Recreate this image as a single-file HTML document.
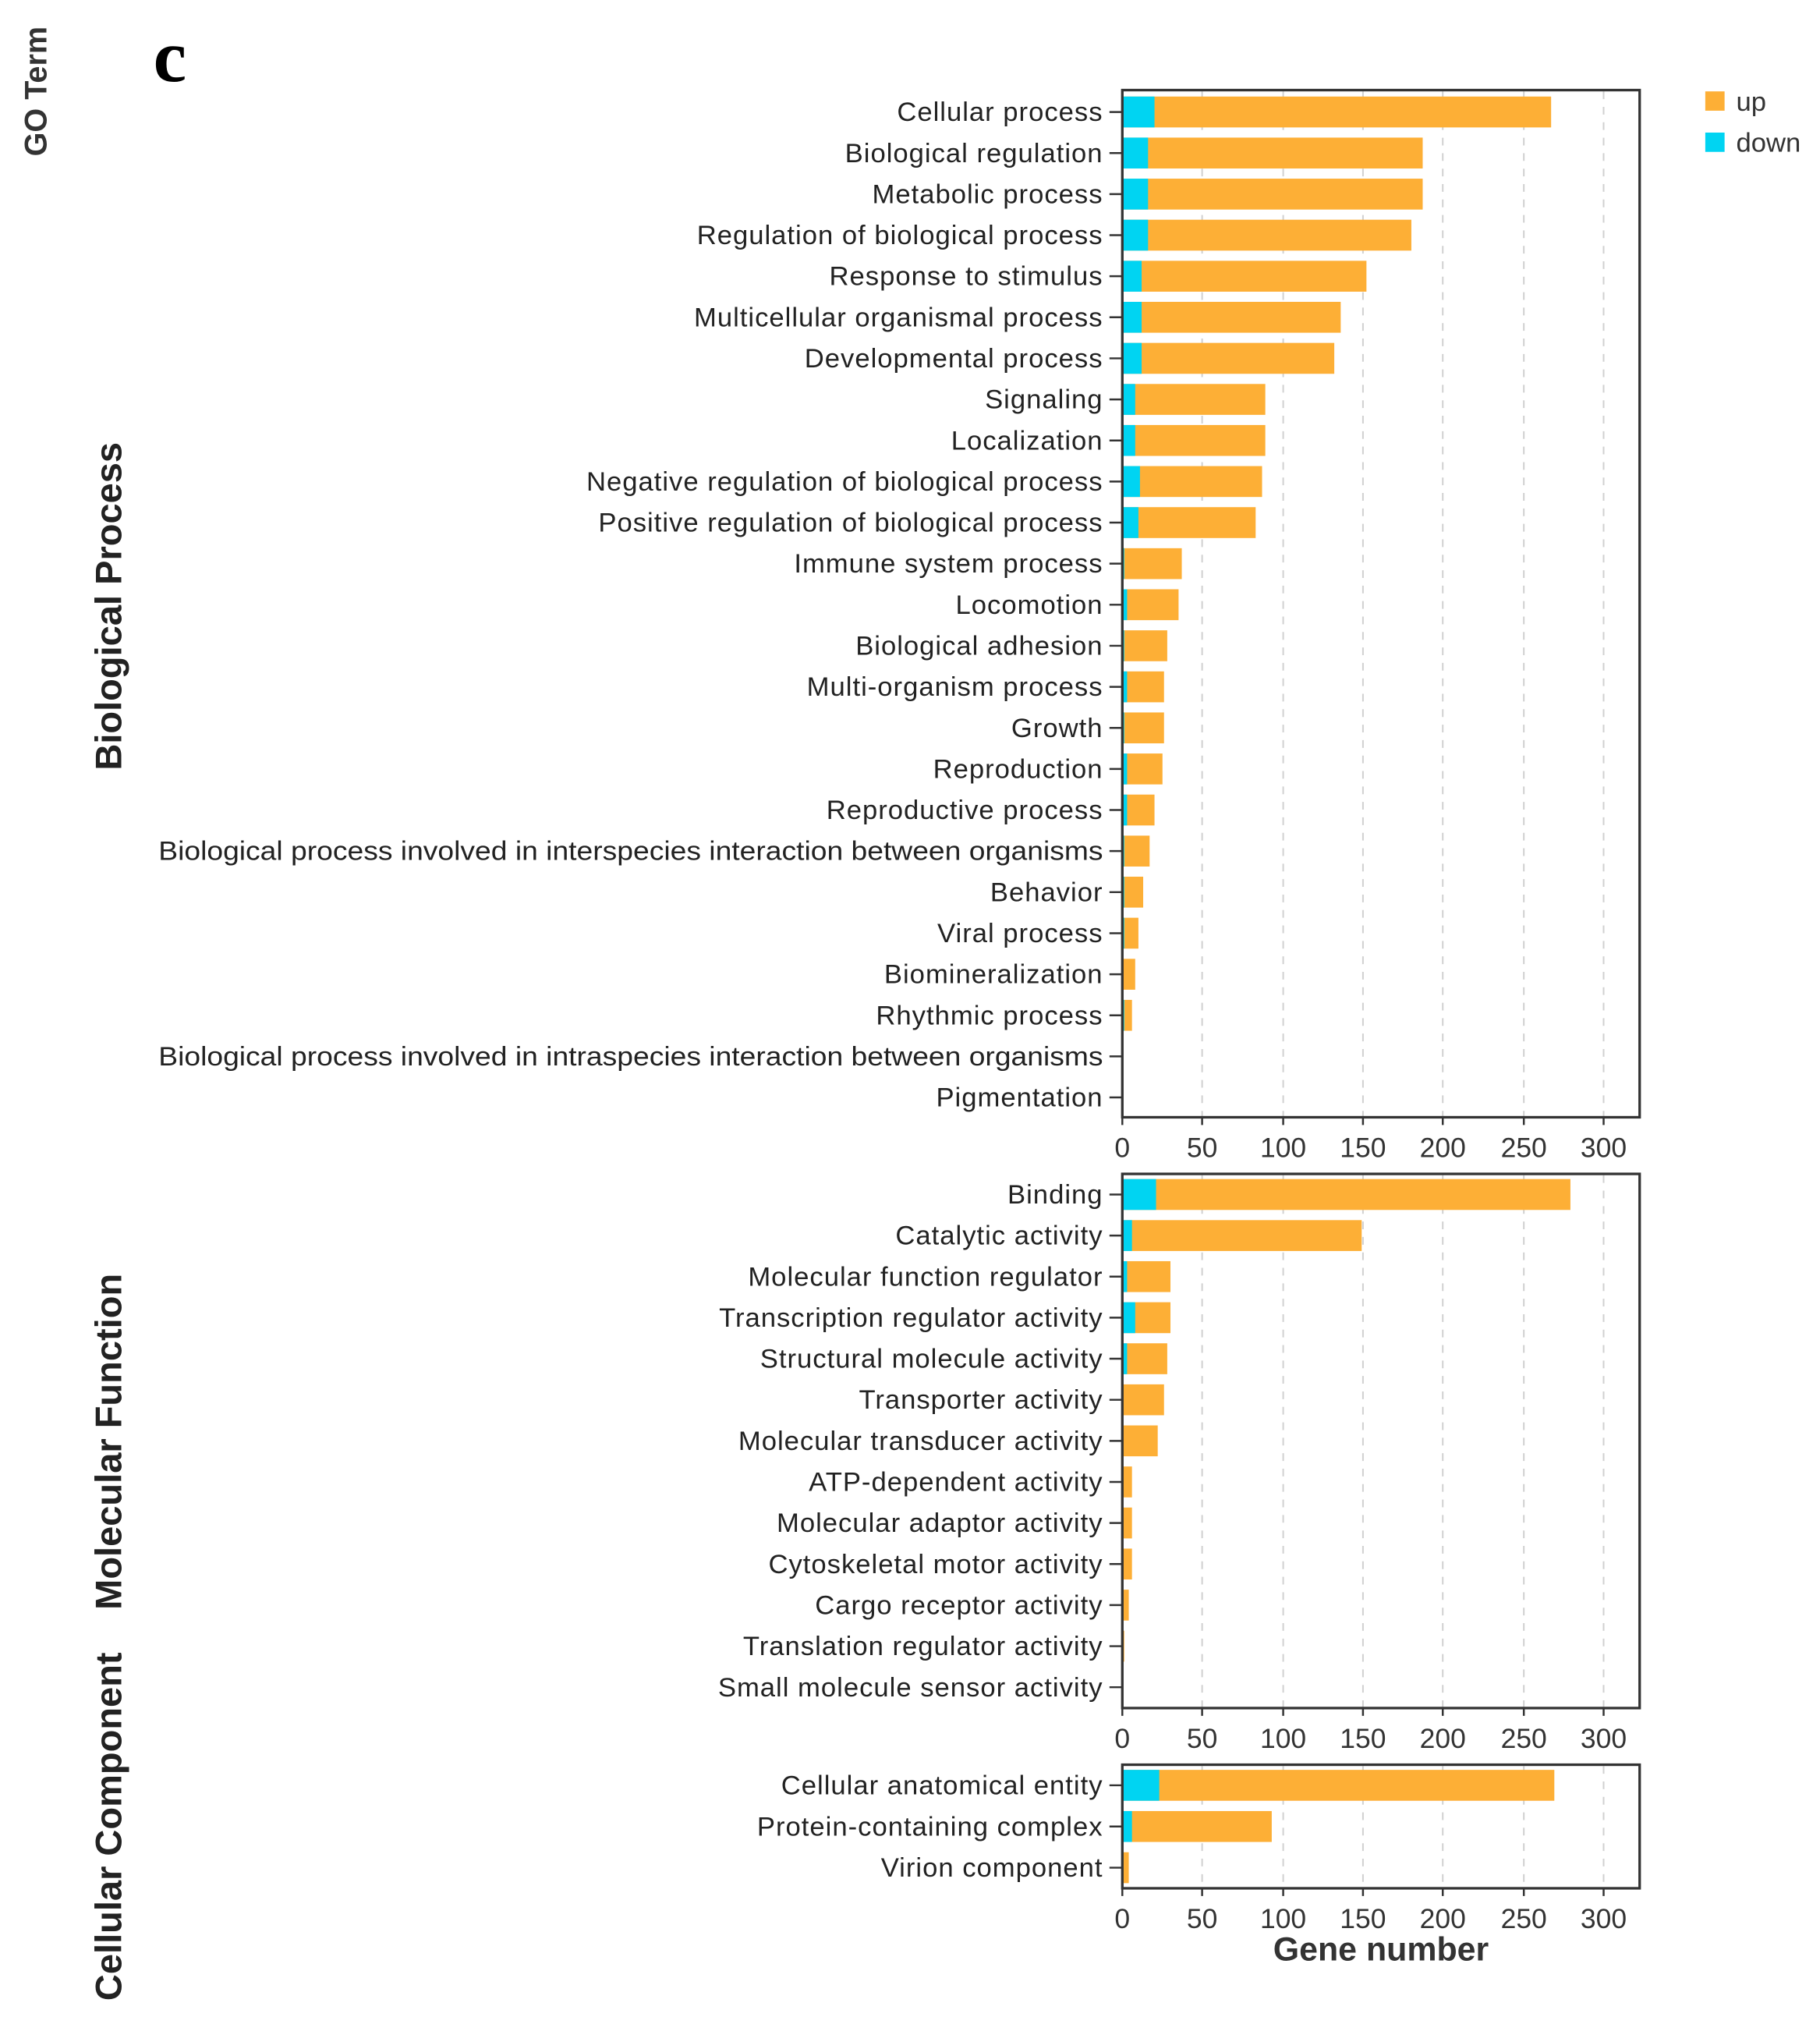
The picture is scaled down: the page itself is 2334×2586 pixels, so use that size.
<!DOCTYPE html>
<html><head><meta charset="utf-8"><style>html,body{margin:0;padding:0;background:#fff}svg{display:block}</style></head>
<body>
<svg width="2334" height="2586" viewBox="0 0 1414 1567" xmlns="http://www.w3.org/2000/svg" font-family="Liberation Sans, Arial, sans-serif">
<rect width="1414" height="1567" fill="#fff"/>
<text x="119" y="63" font-family="Liberation Serif, serif" font-weight="bold" font-size="58">c</text>
<text transform="translate(36,71) rotate(-90)" text-anchor="middle" font-weight="bold" font-size="24" fill="#333">GO Term</text>
<text transform="translate(94,471) rotate(-90)" text-anchor="middle" font-weight="bold" font-size="28.5" fill="#222">Biological Process</text>
<text transform="translate(94,1120) rotate(-90)" text-anchor="middle" font-weight="bold" font-size="28.5" fill="#222">Molecular Function</text>
<text transform="translate(94,1419) rotate(-90)" text-anchor="middle" font-weight="bold" font-size="28.5" fill="#222">Cellular Component</text>

<rect x="1325" y="71" width="15" height="15" fill="#FDAF36"/>
<text x="1349" y="86" font-size="21" fill="#333">up</text>
<rect x="1325" y="103" width="15" height="15" fill="#00D4F2"/>
<text x="1349" y="118" font-size="21" fill="#333">down</text>

<g stroke="#d0d0d0" stroke-width="1.2" stroke-dasharray="6,6">
<path d="M934 71V868M997 71V868M1059 71V868M1121 71V868M1184 71V868M1246 71V868"/>
<path d="M934 913V1327M997 913V1327M1059 913V1327M1121 913V1327M1184 913V1327M1246 913V1327"/>
<path d="M934 1372V1467M997 1372V1467M1059 1372V1467M1121 1372V1467M1184 1372V1467M1246 1372V1467"/>
</g>

<g font-size="21" letter-spacing="0.6" fill="#222" text-anchor="end">
<g transform="translate(0,87)"><rect x="872" y="-12" width="333.2" height="24" fill="#FDAF36"/><rect x="872" y="-12" width="25" height="24" fill="#00D4F2"/><text x="857" y="7">Cellular process</text></g>
<g transform="translate(0,118.9)"><rect x="872" y="-12" width="233.4" height="24" fill="#FDAF36"/><rect x="872" y="-12" width="20" height="24" fill="#00D4F2"/><text x="857" y="7">Biological regulation</text></g>
<g transform="translate(0,150.8)"><rect x="872" y="-12" width="233.4" height="24" fill="#FDAF36"/><rect x="872" y="-12" width="20" height="24" fill="#00D4F2"/><text x="857" y="7">Metabolic process</text></g>
<g transform="translate(0,182.7)"><rect x="872" y="-12" width="224.6" height="24" fill="#FDAF36"/><rect x="872" y="-12" width="20" height="24" fill="#00D4F2"/><text x="857" y="7">Regulation of biological process</text></g>
<g transform="translate(0,214.6)"><rect x="872" y="-12" width="189.7" height="24" fill="#FDAF36"/><rect x="872" y="-12" width="15" height="24" fill="#00D4F2"/><text x="857" y="7">Response to stimulus</text></g>
<g transform="translate(0,246.5)"><rect x="872" y="-12" width="169.7" height="24" fill="#FDAF36"/><rect x="872" y="-12" width="15" height="24" fill="#00D4F2"/><text x="857" y="7">Multicellular organismal process</text></g>
<g transform="translate(0,278.4)"><rect x="872" y="-12" width="164.7" height="24" fill="#FDAF36"/><rect x="872" y="-12" width="15" height="24" fill="#00D4F2"/><text x="857" y="7">Developmental process</text></g>
<g transform="translate(0,310.3)"><rect x="872" y="-12" width="111.1" height="24" fill="#FDAF36"/><rect x="872" y="-12" width="10" height="24" fill="#00D4F2"/><text x="857" y="7">Signaling</text></g>
<g transform="translate(0,342.2)"><rect x="872" y="-12" width="111.1" height="24" fill="#FDAF36"/><rect x="872" y="-12" width="10" height="24" fill="#00D4F2"/><text x="857" y="7">Localization</text></g>
<g transform="translate(0,374.1)"><rect x="872" y="-12" width="108.6" height="24" fill="#FDAF36"/><rect x="872" y="-12" width="13.7" height="24" fill="#00D4F2"/><text x="857" y="7">Negative regulation of biological process</text></g>
<g transform="translate(0,406)"><rect x="872" y="-12" width="103.6" height="24" fill="#FDAF36"/><rect x="872" y="-12" width="12.5" height="24" fill="#00D4F2"/><text x="857" y="7">Positive regulation of biological process</text></g>
<g transform="translate(0,437.9)"><rect x="872" y="-12" width="46.2" height="24" fill="#FDAF36"/><rect x="872" y="-12" width="1.5" height="24" fill="#00D4F2"/><text x="857" y="7">Immune system process</text></g>
<g transform="translate(0,469.8)"><rect x="872" y="-12" width="43.7" height="24" fill="#FDAF36"/><rect x="872" y="-12" width="3.7" height="24" fill="#00D4F2"/><text x="857" y="7">Locomotion</text></g>
<g transform="translate(0,501.7)"><rect x="872" y="-12" width="34.9" height="24" fill="#FDAF36"/><rect x="872" y="-12" width="1.5" height="24" fill="#00D4F2"/><text x="857" y="7">Biological adhesion</text></g>
<g transform="translate(0,533.6)"><rect x="872" y="-12" width="32.4" height="24" fill="#FDAF36"/><rect x="872" y="-12" width="3.7" height="24" fill="#00D4F2"/><text x="857" y="7">Multi-organism process</text></g>
<g transform="translate(0,565.5)"><rect x="872" y="-12" width="32.4" height="24" fill="#FDAF36"/><rect x="872" y="-12" width="1.5" height="24" fill="#00D4F2"/><text x="857" y="7">Growth</text></g>
<g transform="translate(0,597.4)"><rect x="872" y="-12" width="31.2" height="24" fill="#FDAF36"/><rect x="872" y="-12" width="3.7" height="24" fill="#00D4F2"/><text x="857" y="7">Reproduction</text></g>
<g transform="translate(0,629.3)"><rect x="872" y="-12" width="25" height="24" fill="#FDAF36"/><rect x="872" y="-12" width="3.7" height="24" fill="#00D4F2"/><text x="857" y="7">Reproductive process</text></g>
<g transform="translate(0,661.2)"><rect x="872" y="-12" width="21.2" height="24" fill="#FDAF36"/><rect x="872" y="-12" width="1.5" height="24" fill="#00D4F2"/><text x="857" y="7" letter-spacing="0" textLength="734" lengthAdjust="spacingAndGlyphs">Biological process involved in interspecies interaction between organisms</text></g>
<g transform="translate(0,693.1)"><rect x="872" y="-12" width="16.2" height="24" fill="#FDAF36"/><rect x="872" y="-12" width="1.5" height="24" fill="#00D4F2"/><text x="857" y="7">Behavior</text></g>
<g transform="translate(0,725)"><rect x="872" y="-12" width="12.5" height="24" fill="#FDAF36"/><rect x="872" y="-12" width="1.5" height="24" fill="#00D4F2"/><text x="857" y="7">Viral process</text></g>
<g transform="translate(0,756.9)"><rect x="872" y="-12" width="10" height="24" fill="#FDAF36"/><text x="857" y="7">Biomineralization</text></g>
<g transform="translate(0,788.8)"><rect x="872" y="-12" width="7.5" height="24" fill="#FDAF36"/><rect x="872" y="-12" width="1.5" height="24" fill="#00D4F2"/><text x="857" y="7">Rhythmic process</text></g>
<g transform="translate(0,820.7)"><text x="857" y="7" letter-spacing="0" textLength="734" lengthAdjust="spacingAndGlyphs">Biological process involved in intraspecies interaction between organisms</text></g>
<g transform="translate(0,852.6)"><text x="857" y="7">Pigmentation</text></g>

<g transform="translate(0,928)"><rect x="872" y="-12" width="348.2" height="24" fill="#FDAF36"/><rect x="872" y="-12" width="26.2" height="24" fill="#00D4F2"/><text x="857" y="7">Binding</text></g>
<g transform="translate(0,959.9)"><rect x="872" y="-12" width="186" height="24" fill="#FDAF36"/><rect x="872" y="-12" width="7.5" height="24" fill="#00D4F2"/><text x="857" y="7">Catalytic activity</text></g>
<g transform="translate(0,991.8)"><rect x="872" y="-12" width="37.4" height="24" fill="#FDAF36"/><rect x="872" y="-12" width="3.7" height="24" fill="#00D4F2"/><text x="857" y="7">Molecular function regulator</text></g>
<g transform="translate(0,1023.7)"><rect x="872" y="-12" width="37.4" height="24" fill="#FDAF36"/><rect x="872" y="-12" width="10" height="24" fill="#00D4F2"/><text x="857" y="7">Transcription regulator activity</text></g>
<g transform="translate(0,1055.6)"><rect x="872" y="-12" width="34.9" height="24" fill="#FDAF36"/><rect x="872" y="-12" width="3.7" height="24" fill="#00D4F2"/><text x="857" y="7">Structural molecule activity</text></g>
<g transform="translate(0,1087.5)"><rect x="872" y="-12" width="32.4" height="24" fill="#FDAF36"/><text x="857" y="7">Transporter activity</text></g>
<g transform="translate(0,1119.4)"><rect x="872" y="-12" width="27.5" height="24" fill="#FDAF36"/><text x="857" y="7">Molecular transducer activity</text></g>
<g transform="translate(0,1151.3)"><rect x="872" y="-12" width="7.5" height="24" fill="#FDAF36"/><text x="857" y="7">ATP-dependent activity</text></g>
<g transform="translate(0,1183.2)"><rect x="872" y="-12" width="7.5" height="24" fill="#FDAF36"/><text x="857" y="7">Molecular adaptor activity</text></g>
<g transform="translate(0,1215.1)"><rect x="872" y="-12" width="7.5" height="24" fill="#FDAF36"/><text x="857" y="7">Cytoskeletal motor activity</text></g>
<g transform="translate(0,1247)"><rect x="872" y="-12" width="5" height="24" fill="#FDAF36"/><text x="857" y="7">Cargo receptor activity</text></g>
<g transform="translate(0,1278.9)"><rect x="872" y="-12" width="1.5" height="24" fill="#FDAF36"/><text x="857" y="7">Translation regulator activity</text></g>
<g transform="translate(0,1310.8)"><text x="857" y="7">Small molecule sensor activity</text></g>

<g transform="translate(0,1387)"><rect x="872" y="-12" width="335.7" height="24" fill="#FDAF36"/><rect x="872" y="-12" width="28.7" height="24" fill="#00D4F2"/><text x="857" y="7">Cellular anatomical entity</text></g>
<g transform="translate(0,1419)"><rect x="872" y="-12" width="116.1" height="24" fill="#FDAF36"/><rect x="872" y="-12" width="7.5" height="24" fill="#00D4F2"/><text x="857" y="7">Protein-containing complex</text></g>
<g transform="translate(0,1451)"><rect x="872" y="-12" width="5" height="24" fill="#FDAF36"/><text x="857" y="7">Virion component</text></g>
</g>

<g stroke="#333" stroke-width="1.5">
<path d="M862 87H872M862 118.9H872M862 150.8H872M862 182.7H872M862 214.6H872M862 246.5H872M862 278.4H872M862 310.3H872M862 342.2H872M862 374.1H872M862 406H872M862 437.9H872M862 469.8H872M862 501.7H872M862 533.6H872M862 565.5H872M862 597.4H872M862 629.3H872M862 661.2H872M862 693.1H872M862 725H872M862 756.9H872M862 788.8H872M862 820.7H872M862 852.6H872"/>
<path d="M862 928H872M862 959.9H872M862 991.8H872M862 1023.7H872M862 1055.6H872M862 1087.5H872M862 1119.4H872M862 1151.3H872M862 1183.2H872M862 1215.1H872M862 1247H872M862 1278.9H872M862 1310.8H872"/>
<path d="M862 1387H872M862 1419H872M862 1451H872"/>
<path d="M872 868V874M934 868V874M997 868V874M1059 868V874M1121 868V874M1184 868V874M1246 868V874"/>
<path d="M872 1327V1333M934 1327V1333M997 1327V1333M1059 1327V1333M1121 1327V1333M1184 1327V1333M1246 1327V1333"/>
<path d="M872 1467V1473M934 1467V1473M997 1467V1473M1059 1467V1473M1121 1467V1473M1184 1467V1473M1246 1467V1473"/>
</g>
<g fill="none" stroke="#333" stroke-width="2">
<rect x="872" y="70" width="402" height="798"/>
<rect x="872" y="912" width="402" height="415"/>
<rect x="872" y="1371" width="402" height="96"/>
</g>
<g font-size="21.5" fill="#333" text-anchor="middle">
<g transform="translate(0,899)"><text x="872">0</text><text x="934">50</text><text x="997">100</text><text x="1059">150</text><text x="1121">200</text><text x="1184">250</text><text x="1246">300</text></g>
<g transform="translate(0,1358)"><text x="872">0</text><text x="934">50</text><text x="997">100</text><text x="1059">150</text><text x="1121">200</text><text x="1184">250</text><text x="1246">300</text></g>
<g transform="translate(0,1498)"><text x="872">0</text><text x="934">50</text><text x="997">100</text><text x="1059">150</text><text x="1121">200</text><text x="1184">250</text><text x="1246">300</text></g>
</g>
<text x="1073" y="1523" text-anchor="middle" font-weight="bold" font-size="26" fill="#333">Gene number</text>
</svg>
</body></html>
